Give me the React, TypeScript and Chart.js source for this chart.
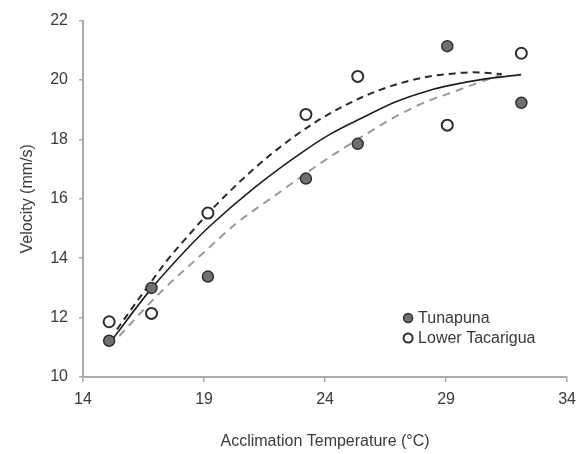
import React, { useEffect, useRef } from "react";
import { Chart, registerables } from "chart.js";

Chart.register(...registerables);

// Observed points
const tunapunaTemp = [15.08, 16.83, 19.16, 23.21, 25.35, 29.05, 32.11];
const tunapunaVel = [11.22, 13.0, 13.38, 16.68, 17.85, 21.14, 19.23];
const tacariguaTemp = [15.08, 16.83, 19.16, 23.21, 25.35, 29.05, 32.11];
const tacariguaVel = [11.86, 12.14, 15.52, 18.84, 20.12, 18.48, 20.9];

// Fitted curves
const pooledFitTemp = [15.2, 16.8, 18.4, 19.2, 21.15, 23.2, 24.2, 25.5, 26.9, 28.3, 29.1, 30.5, 32.1];
const pooledFitVel = [11.25, 12.95, 14.4, 15.05, 16.42, 17.65, 18.17, 18.71, 19.26, 19.65, 19.81, 20.02, 20.18];
const tacariguaFitTemp = [15.4, 16.5, 17.5, 18.5, 19.16, 20.2, 21.8, 23.6, 25.5, 26.9, 28.3, 29.1, 30.1, 31.3];
const tacariguaFitVel = [11.6, 12.85, 13.95, 14.9, 15.5, 16.36, 17.52, 18.58, 19.41, 19.84, 20.12, 20.2, 20.26, 20.2];
const tunapunaFitTemp = [15.5, 17.1, 19.0, 20.3, 22.0, 23.6, 25.3, 26.9, 28.3, 29.1, 30.3, 31.3];
const tunapunaFitVel = [11.38, 12.77, 14.2, 15.15, 16.15, 17.08, 17.98, 18.76, 19.31, 19.54, 19.9, 20.18];

const xTicks = [14, 19, 24, 29, 34];
const yTicks = [10, 12, 14, 16, 18, 20, 22];
const legendLabels = ["Tunapuna", "Lower Tacarigua"];

const FONT = "'Liberation Sans', Arial, sans-serif";
const TEXT = "#3a3a3a";
const AXIS = "#ababab";
const DARK_FILL = "#707070";
const EDGE = "#2e2e2e";

const zip = (xs: number[], ys: number[]) => xs.map((x, i) => ({ x, y: ys[i] }));

const legendPlugin = {
  id: "customLegend",
  afterDraw(chart: any) {
    const { ctx, chartArea } = chart;
    const x0 = chartArea.right - 159;
    const y0 = chartArea.bottom - 59;
    ctx.save();
    ctx.font = `16px ${FONT}`;
    ctx.textBaseline = "middle";
    ctx.textAlign = "left";
    legendLabels.forEach((label, i) => {
      const cy = y0 + i * 20;
      ctx.beginPath();
      ctx.arc(x0, cy, 4.5, 0, Math.PI * 2);
      ctx.fillStyle = i === 0 ? DARK_FILL : "#ffffff";
      ctx.fill();
      ctx.lineWidth = i === 0 ? 1.5 : 2;
      ctx.strokeStyle = EDGE;
      ctx.stroke();
      ctx.fillStyle = TEXT;
      ctx.fillText(label, x0 + 10, cy + 1);
    });
    ctx.restore();
  },
};

export default function App() {
  const ref = useRef<HTMLCanvasElement | null>(null);

  useEffect(() => {
    if (!ref.current) return;
    const chart = new Chart(ref.current, {
      type: "scatter",
      data: {
        datasets: [
          {
            label: legendLabels[0],
            data: zip(tunapunaTemp, tunapunaVel),
            pointRadius: 5.5,
            pointBackgroundColor: DARK_FILL,
            pointBorderColor: EDGE,
            pointBorderWidth: 1.5,
            showLine: false,
          },
          {
            label: legendLabels[1],
            data: zip(tacariguaTemp, tacariguaVel),
            pointRadius: 5.5,
            pointBackgroundColor: "#ffffff",
            pointBorderColor: EDGE,
            pointBorderWidth: 2,
            showLine: false,
          },
          {
            label: "Pooled fit",
            data: zip(pooledFitTemp, pooledFitVel),
            showLine: true,
            pointRadius: 0,
            borderColor: "#1e1e1e",
            borderWidth: 1.6,
            cubicInterpolationMode: "monotone",
          } as any,
          {
            label: "Lower Tacarigua fit",
            data: zip(tacariguaFitTemp, tacariguaFitVel),
            showLine: true,
            pointRadius: 0,
            borderColor: "#2a2a2a",
            borderWidth: 2,
            borderDash: [7, 5],
            cubicInterpolationMode: "monotone",
          } as any,
          {
            label: "Tunapuna fit",
            data: zip(tunapunaFitTemp, tunapunaFitVel),
            showLine: true,
            pointRadius: 0,
            borderColor: "#9a9a9a",
            borderWidth: 2,
            borderDash: [8, 6],
            cubicInterpolationMode: "monotone",
          } as any,
        ],
      },
      options: {
        responsive: false,
        animation: false,
        devicePixelRatio: 1,
        layout: { padding: { top: 16, right: 15, left: 0, bottom: 0 } },
        plugins: {
          legend: { display: false },
          tooltip: { enabled: false },
        },
        scales: {
          x: {
            type: "linear",
            min: 14,
            max: 34,
            afterBuildTicks: (scale: any) => {
              scale.ticks = xTicks.map((v) => ({ value: v }));
            },
            afterFit: (scale: any) => {
              scale.height = 77;
            },
            grid: { display: true, drawOnChartArea: false, drawTicks: true, tickLength: 5, color: AXIS, lineWidth: 1.5 },
            border: { display: true, color: AXIS, width: 2 },
            ticks: { color: TEXT, font: { family: FONT, size: 16 }, padding: 8, maxRotation: 0 },
            title: {
              display: true,
              text: "Acclimation Temperature (°C)",
              color: TEXT,
              font: { family: FONT, size: 16 },
              padding: { top: 0, bottom: 3 },
            },
          },
          y: {
            type: "linear",
            min: 10,
            max: 22,
            afterBuildTicks: (scale: any) => {
              scale.ticks = yTicks.map((v) => ({ value: v }));
            },
            afterFit: (scale: any) => {
              scale.width = 83;
            },
            grid: { display: true, drawOnChartArea: false, drawTicks: true, tickLength: 4, color: AXIS, lineWidth: 1.5 },
            border: { display: true, color: AXIS, width: 2 },
            ticks: { color: TEXT, font: { family: FONT, size: 16 }, padding: 11 },
            title: {
              display: true,
              text: "Velocity (mm/s)",
              color: TEXT,
              font: { family: FONT, size: 16 },
              padding: { top: 18, bottom: 0 },
            },
          },
        },
      } as any,
      plugins: [legendPlugin],
    });
    return () => chart.destroy();
  }, []);

  return (
    <div style={{ position: "fixed", left: 0, top: 0, width: 584, height: 454, background: "#ffffff" }}>
      <canvas ref={ref} width={584} height={454} style={{ width: 584, height: 454, display: "block" }} />
    </div>
  );
}
